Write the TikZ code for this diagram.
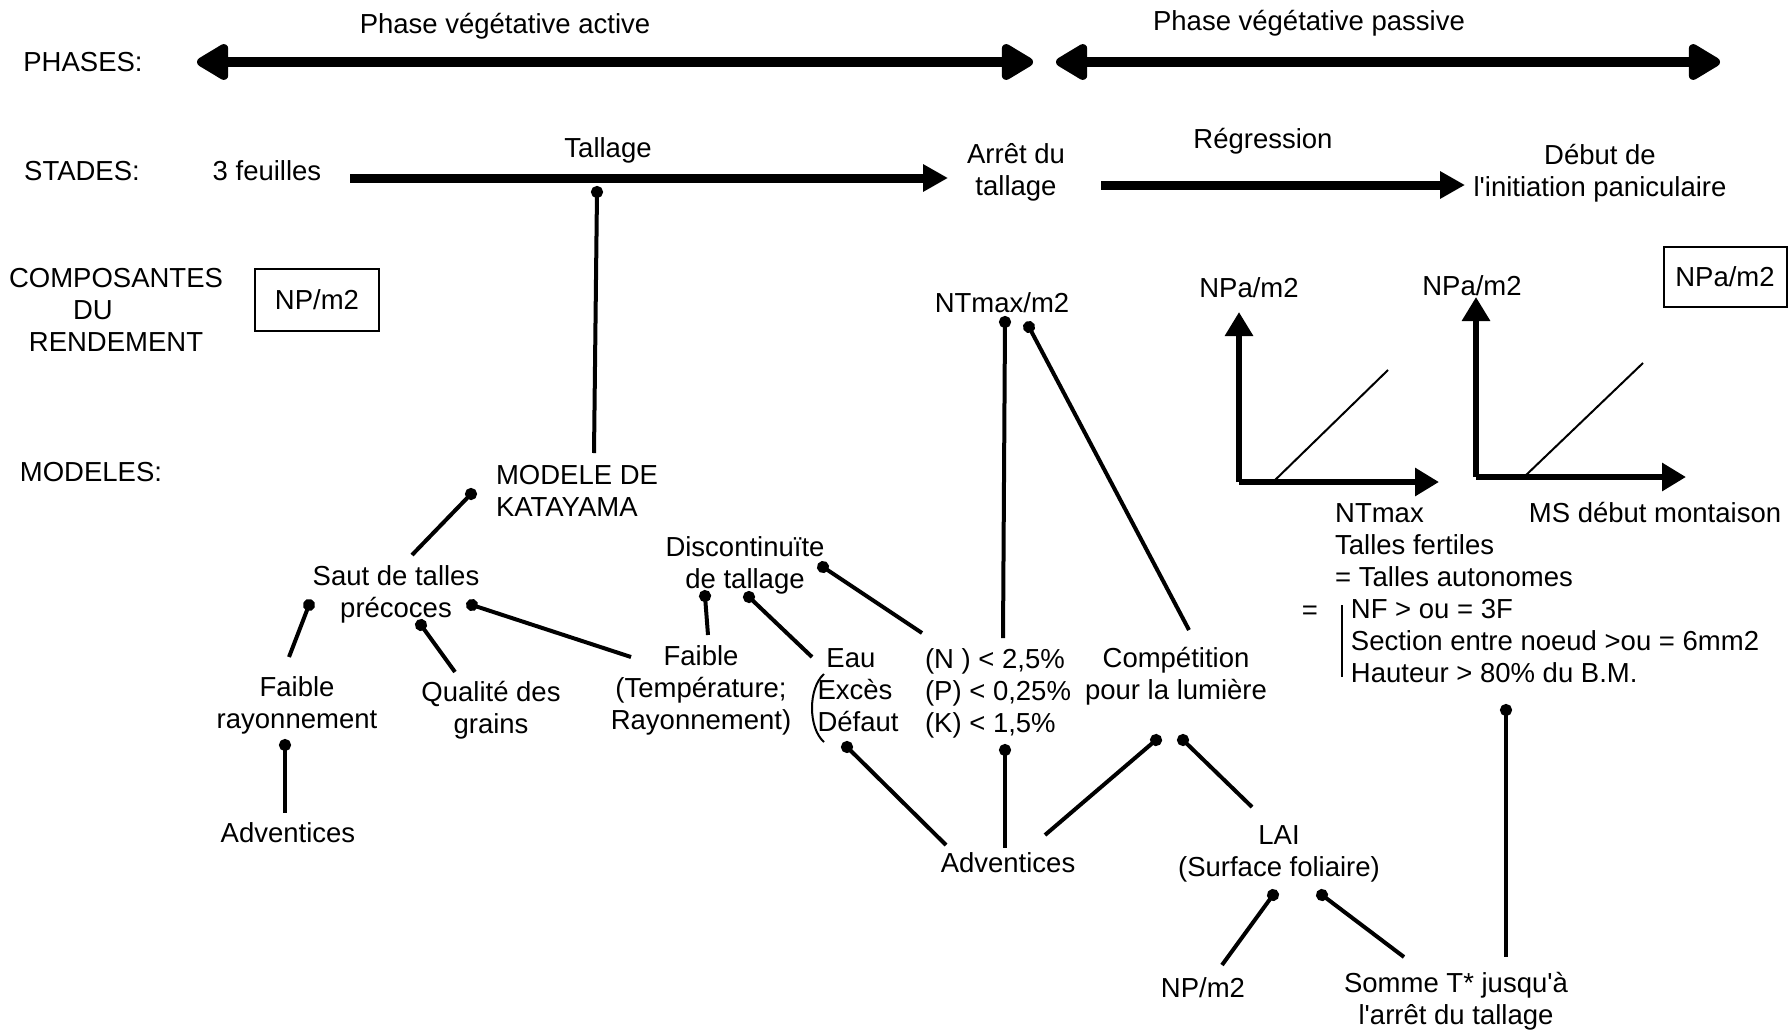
\documentclass[tikz,border=0pt]{standalone}
\usepackage{fontspec}
\setmainfont{Liberation Sans}
\usetikzlibrary{arrows.meta,calc}

\tikzset{
  txt/.style={font=\fontsize{27.5}{32}\selectfont, inner sep=2pt, align=center},
  boxed/.style={txt, draw, line width=2pt},
  phasearrow/.style={line width=10pt,
    {Triangle[length=36pt,width=40pt,round]}-{Triangle[length=36pt,width=40pt,round]}},
  stadearrow/.style={line width=9pt, -{Triangle[length=25pt,width=26pt]}},
  axisline/.style={line width=6pt, -{Triangle[length=24pt,width=27pt]}},
  link/.style={line width=4pt, {Circle[length=12pt]}-, shorten <=-6pt},
  thinline/.style={line width=2pt}
}

\begin{document}
\begin{tikzpicture}[x=1pt, y=-1pt]
  \useasboundingbox (0,0) rectangle (1790,1029);

  % row titles
  \node[txt] (phases)  at (83,62)   {PHASES:};
  \node[txt] (stades)  at (82,171)  {STADES:};
  \node[txt] (compos)  at (116,310) {COMPOSANTES\\DU\rule{46pt}{0pt}\\RENDEMENT};
  \node[txt] (modeles) at (91,472)  {MODELES:};

  % phases
  \node[txt] (phact)  at (505,26)  {Phase végétative active};
  \node[txt] (phpass) at (1309,23) {Phase végétative passive};
  \draw[phasearrow] ($(phact)+(-308,36)$) -- ($(phact)+(528,36)$);
  \draw[phasearrow] ($(phpass)+(-253,39)$) -- ($(phpass)+(411,39)$);

  % stades
  \node[txt] (feuilles) at (267,171)  {3 feuilles};
  \node[txt] (tallage)  at (608,150)  {Tallage};
  \node[txt] (arret)    at (1016,172) {Arrêt du\\tallage};
  \node[txt] (regress)  at (1263,141) {Régression};
  \node[txt] (debut)    at (1600,173) {Début de\\l\textquotesingle initiation paniculaire};
  \draw[stadearrow] ($(feuilles)+(83,7)$) -- ($(arret)+(-68,6)$);
  \draw[stadearrow] ($(arret)+(85,13)$) -- ($(debut)+(-135,12)$);

  % composantes
  \node[boxed, minimum width=124pt, minimum height=62pt] (npbox) at (317,300) {NP/m2};
  \node[boxed, minimum width=123pt, minimum height=60pt] (npabox) at (1725,277) {NPa/m2};
  \node[txt] (ntmax) at (1002,303) {NTmax/m2};
  \node[txt] (npa1)  at (1249,288) {NPa/m2};
  \node[txt] (npa2)  at (1472,286) {NPa/m2};

  % small graphs
  \coordinate (g1) at (1239,482);
  \draw[axisline] (g1) -- ++(0,-170);
  \draw[axisline] (g1) -- ++(200,0);
  \draw[thinline] ($(g1)+(34,0)$) -- ++(115,-112);
  \coordinate (g2) at (1476,477);
  \draw[axisline] (g2) -- ++(0,-180);
  \draw[axisline] (g2) -- ++(210,0);
  \draw[thinline] ($(g2)+(48,0)$) -- ++(119,-114);
  \node[txt, align=left] (ntlab) at (1454,545) {NTmax\\Talles fertiles\\= Talles autonomes};
  \node[txt] (msdeb) at (1655,512) {MS début montaison};
  \node[txt] (eqsign) at (1310,613) {=};
  \node[txt, align=left] (crit) at (1555,641)
    {NF > ou = 3F\\Section entre noeud >ou = 6mm2\\Hauteur > 80\% du B.M.};
  \draw[thinline] ($(crit)+(-213,-36)$) -- ($(crit)+(-213,36)$);

  % modeles
  \node[txt, align=left] (katayama) at (577,491) {MODELE DE\\KATAYAMA};
  \node[txt] (saut)     at (396,594) {Saut de talles\\précoces};
  \node[txt] (faiblray) at (297,705) {Faible\\rayonnement};
  \node[txt] (adv1)     at (288,833) {Adventices};
  \node[txt] (qualite)  at (491,710) {Qualité des\\grains};
  \node[txt] (faibtemp) at (701,690) {Faible\\(Température;\\Rayonnement)};
  \node[txt] (discont)  at (745,565) {Discontinuïte\\de tallage};
  \node[txt, align=left] (eau) at (858,690) {\hspace*{9pt}Eau\\Excès\\Défaut};
  \draw[thinline] ($(eau)+(-34,-16)$) .. controls ($(eau)+(-50,-2)$) and ($(eau)+(-50,38)$) .. ($(eau)+(-34,52)$);
  \node[txt, align=left] (nkp) at (998,693) {(N ) < 2,5\%\\(P) < 0,25\%\\(K) < 1,5\%};
  \node[txt] (compet) at (1176,676) {Compétition\\pour la lumière};
  \node[txt] (adv2)   at (1008,863) {Adventices};
  \node[txt] (lai)    at (1279,854) {LAI\\(Surface foliaire)};
  \node[txt] (np2)    at (1203,988) {NP/m2};
  \node[txt] (somme)  at (1456,1001) {Somme T* jusqu\textquotesingle à\\l\textquotesingle arrêt du tallage};

  % liens
  \draw[link] ($(tallage)+(-11,42)$) -- ($(katayama)+(17,-38)$);
  \draw[link] ($(katayama)+(-106,3)$) -- ($(saut)+(16,-39)$);
  \draw[link] ($(saut)+(-87,11)$) -- ($(faiblray)+(-8,-48)$);
  \draw[link] ($(faiblray)+(-12,40)$) -- ($(adv1)+(-3,-20)$);
  \draw[link] ($(saut)+(25,31)$) -- ($(qualite)+(-36,-38)$);
  \draw[link] ($(saut)+(76,11)$) -- ($(faibtemp)+(-70,-33)$);
  \draw[link] ($(discont)+(-40,31)$) -- ($(faibtemp)+(7,-55)$);
  \draw[link] ($(discont)+(4,32)$) -- ($(eau)+(-46,-33)$);
  \draw[link] ($(discont)+(78,2)$) -- ($(nkp)+(-76,-60)$);
  \draw[link] ($(eau)+(-11,57)$) -- ($(adv2)+(-62,-18)$);
  \draw[link] ($(ntmax)+(3,19)$) -- ($(nkp)+(5,-55)$);
  \draw[link] ($(ntmax)+(27,24)$) -- ($(compet)+(13,-46)$);
  \draw[link] ($(nkp)+(7,57)$) -- ($(adv2)+(-3,-15)$);
  \draw[link] ($(compet)+(-20,64)$) -- ($(adv2)+(37,-28)$);
  \draw[link] ($(compet)+(7,64)$) -- ($(lai)+(-27,-47)$);
  \draw[link] ($(lai)+(-6,41)$) -- ($(np2)+(19,-23)$);
  \draw[link] ($(lai)+(43,41)$) -- ($(somme)+(-52,-44)$);
  \draw[link] ($(crit)+(-49,69)$) -- ($(somme)+(50,-44)$);
\end{tikzpicture}
\end{document}
